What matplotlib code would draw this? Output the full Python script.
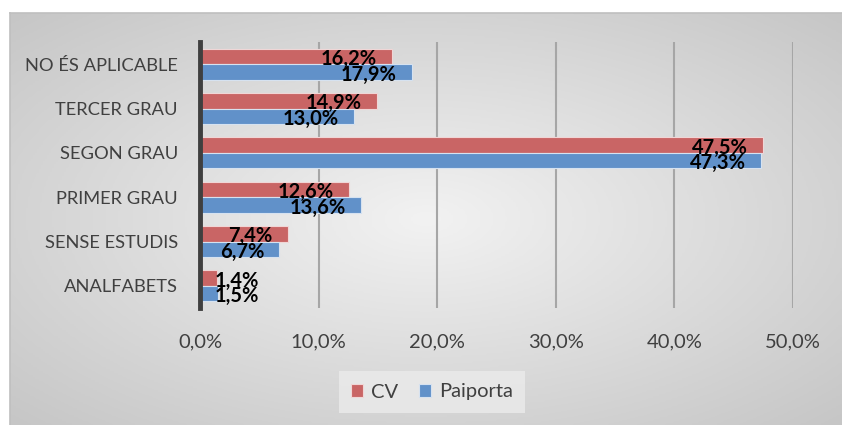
import numpy as np
import matplotlib.pyplot as plt
import matplotlib.colors as mcolors

categories = ['NO ÉS APLICABLE', 'TERCER GRAU', 'SEGON GRAU',
              'PRIMER GRAU', 'SENSE ESTUDIS', 'ANALFABETS']
cv = [16.2, 14.9, 47.5, 12.6, 7.4, 1.4]
paiporta = [17.9, 13.0, 47.3, 13.6, 6.7, 1.5]
xticks = [0, 10, 20, 30, 40, 50]

W, H = 842, 425
fig = plt.figure(figsize=(W / 100, H / 100), dpi=100)
FONT = 'Lato'

# radial grey gradient background inside the frame
bg = fig.add_axes([10 / W, 0, 1 - 10 / W, (H - 13) / H])
gx, gy = np.meshgrid(np.linspace(-1, 1, 400), np.linspace(-1, 1, 200))
r = np.sqrt(gx ** 2 + gy ** 2) / np.sqrt(2)
cmap = mcolors.LinearSegmentedColormap.from_list('g', ['#f2f2f2', '#c6c6c6'])
bg.imshow(r, cmap=cmap, aspect='auto', extent=[0, 1, 0, 1], vmin=0, vmax=1)
bg.set_xticks([])
bg.set_yticks([])
for s in ['right', 'bottom']:
    bg.spines[s].set_visible(False)
for s in ['left', 'top']:
    bg.spines[s].set_color('#bfbfbf')
    bg.spines[s].set_linewidth(1.2)

ax = fig.add_axes([200 / W, (H - 308) / H, 593 / W, 266 / H])
ax.patch.set_alpha(0)

y = np.arange(len(categories))
h = 0.35
red = '#c96565'
blue = '#6191c9'
ax.barh(y - h / 2, cv, height=h, color=red, edgecolor='#f0d6d6', linewidth=0.8, label='CV')
ax.barh(y + h / 2, paiporta, height=h, color=blue, edgecolor='#d6e2f0', linewidth=0.8, label='Paiporta')

# data labels: inside end, pushed right of the axis for tiny bars
lab_font = dict(fontsize=14.5, fontweight='bold', color='black', family=FONT)
for vals, off in [(cv, -h / 2), (paiporta, h / 2)]:
    for i, v in enumerate(vals):
        txt = ('%.1f%%' % v).replace('.', ',')
        if v < 5:
            ax.text(1.2, i + off + 0.06, txt, ha='left', va='center', **lab_font)
        else:
            ax.text(v - 1.3, i + off + 0.06, txt, ha='right', va='center', **lab_font)

ax.set_xlim(0, 50)
ax.set_ylim(len(categories) - 0.5, -0.5)
ax.set_yticks(y)
ax.set_yticklabels(categories, fontsize=13.2, color='#404040', family=FONT)
ax.set_xticks(xticks)
ax.set_xticklabels([('%.1f%%' % t).replace('.', ',') for t in xticks],
                   fontsize=14.5, color='#404040', family=FONT)
ax.tick_params(length=0)
ax.tick_params(axis='x', pad=18)
ax.tick_params(axis='y', pad=16)
for s in ['top', 'right', 'bottom']:
    ax.spines[s].set_visible(False)
ax.spines['left'].set_color('#3f3f3f')
ax.spines['left'].set_linewidth(3.5)
ax.xaxis.grid(True, color='#a6a6a6', linewidth=1.5)
ax.set_axisbelow(True)
ax.get_xgridlines()[0].set_visible(False)

leg = fig.legend(loc='center', bbox_to_anchor=(432 / W, 1 - 392 / H), ncol=2,
                 frameon=True, fancybox=False, prop={'family': FONT, 'size': 14.5},
                 handlelength=0.6, handleheight=0.6, handletextpad=0.4, columnspacing=1.0,
                 borderpad=0.6, labelcolor='#404040')
leg.get_frame().set_facecolor('#ebebeb')
leg.get_frame().set_edgecolor('none')

fig.savefig('out.png', dpi=100)
